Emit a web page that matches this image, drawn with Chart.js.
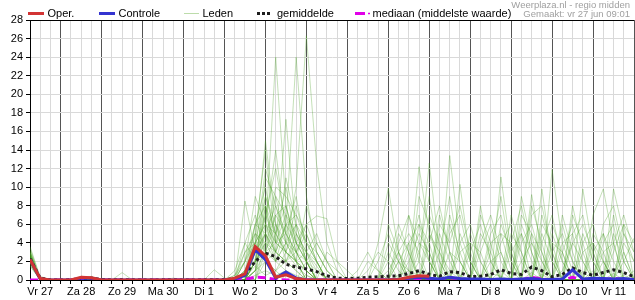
<!DOCTYPE html>
<html>
<head>
<meta charset="utf-8">
<script src="https://cdn.jsdelivr.net/npm/chart.js@4"></script>
<style>
html,body{margin:0;padding:0;background:#fff;}
canvas{display:block;}
</style>
</head>
<body>
<canvas id="c" width="635" height="300"></canvas>
<script>
// ---- categories: 6-hourly steps, hours since vr 27 00:00 ----
const N = 60;
const uren = Array.from({length: N}, (_, i) => 6 + 6 * i);
const dagen = ['Vr 27','Za 28','Zo 29','Ma 30','Di 1','Wo 2','Do 3','Vr 4','Za 5','Zo 6','Ma 7','Di 8','Wo 9','Do 10','Vr 11'];
const yTicks = [0,2,4,6,8,10,12,14,16,18,20,22,24,26,28];

// ---- series ----
const oper = [2.2,0.15,0,0,0,0.3,0.25,0,0,0, 0,0,0,0,0,0,0,0,0,0,
  0.2,0.67,3.6,2.6,0.3,0.55,0.15,0,0,0, 0,0,0,0,0,0,0.05,0.3,0.45,0.4];
const controle = [2.2,0.1,0,0,0,0.2,0.2,0,0,0, 0,0,0,0,0,0,0,0,0,0,
  0.1,0.5,3.3,2.2,0.2,0.85,0.2,0,0,0, 0,0,0,0,0,0,0.05,0.2,0.3,0.2,
  0.1,0.3,0.15,0.1,0.1,0.05,0.1,0.05,0.1,0.15, 0.05,0.05,0.1,1.1,0.1,0.2,0.15,0.1,0.15,0.05];
const gemiddelde = [2.3,0.2,0.02,0,0.02,0.2,0.2,0.05,0.02,0.05, 0.02,0,0,0.02,0.03,0,0,0.02,0.03,0.05,
  0.15,0.6,2.0,2.9,2.5,1.7,1.4,1.2,0.9,0.45, 0.2,0.15,0.2,0.3,0.35,0.4,0.45,0.7,1.0,0.6,
  0.4,0.9,0.8,0.35,0.4,0.6,1.1,0.7,0.6,1.4, 1.0,0.35,0.6,1.3,0.8,0.5,0.8,1.1,0.8,0.35];
const mediaan = [0,0,0,0,0,0,0,0,0,0, 0,0,0,0,0,0,0,0,0,0,
  0,0.05,0.3,0.25,0.05,0,0,0,0,0, 0,0,0,0,0,0,0,0.05,0,0,
  0,0.25,0.1,0,0,0,0,0,0,0.3, 0.1,0,0,0.3,0,0,0,0.2,0,0];

// ensemble members: [step, value] pairs, all other steps 0
const leden = [
  [[0,3.6],[1,0.3],[20,0.5],[21,2],[22,4],[23,15],[24,6],[25,3],[26,1.5],[27,0.5],[38,2],[39,12.6],[40,3],[41,1],[48,2],[49,4],[50,1],[55,1]],
  [[0,3.2],[1,0.2],[5,0.3],[21,8.5],[22,3],[23,5],[24,24],[25,8],[26,4],[27,2],[28,1],[35,1],[36,3],[37,1],[46,11.1],[47,3],[52,1],[53,4],[54,2]],
  [[0,2.9],[1,0.1],[6,0.4],[22,6],[23,10],[24,4],[25,17.3],[26,5],[27,3],[28,1.5],[41,13.4],[42,4],[43,1],[50,9.8],[51,2],[57,3],[58,6]],
  [[0,2.7],[22,2],[23,7],[24,12],[25,6],[26,24],[27,9],[28,3],[29,1],[36,2],[37,1],[38,12.2],[39,5],[40,2],[49,9.2],[50,3],[56,2]],
  [[0,2.5],[1,0.1],[21,1],[22,4],[23,9],[24,6],[25,4],[26,10],[27,26.3],[28,12.4],[29,4],[30,1],[42,10.3],[43,2],[51,11.9],[52,4],[53,1]],
  [[0,2.3],[5,0.2],[22,3],[23,12],[24,8],[25,5],[26,3],[27,6],[28,6.9],[29,6.6],[30,2],[31,1],[45,5],[46,7],[47,2],[54,9.8],[55,3]],
  [[0,2.1],[21,3],[22,5],[23,4],[24,10],[25,9],[26,7],[27,4],[28,2],[34,4],[35,9.9],[36,3],[44,3],[45,6],[46,2],[57,9.8],[58,5],[59,2]],
  [[0,2.0],[6,0.3],[23,8],[24,3],[25,11],[26,6],[27,2],[37,6.9],[38,4],[39,2],[48,9],[49,4],[50,2],[55,7],[56,9.8],[57,4]],
  [[0,1.8],[9,0.8],[22,1],[23,6],[24,5],[25,3],[26,2],[27,8],[28,4],[29,2],[40,6],[41,4],[42,8],[43,3],[52,7],[53,3],[58,2],[59,4.5]],
  [[0,1.6],[18,1.1],[19,0.2],[22,2],[23,4],[24,7],[25,5],[26,9],[27,3],[28,1],[33,2],[34,1],[38,9],[39,6],[40,1],[47,7],[48,3],[54,5],[55,2]],
  [[0,2.4],[14,0.2],[20,1],[21,4],[22,7],[23,3],[24,2],[25,6],[26,4],[27,3],[28,5],[29,2],[41,7],[42,3],[44,8],[45,2],[50,6],[51,4],[56,5],[57,2]],
  [[0,3.0],[22,1],[23,11],[24,9],[25,7],[26,3],[27,1],[36,5],[37,3],[43,5],[44,2],[48,5],[49,2],[53,8],[54,3]],
  [[0,2.6],[5,0.4],[6,0.3],[21,2],[22,9],[23,6],[24,3],[25,2],[26,5],[27,2],[39,4],[40,8],[41,3],[46,4],[47,6],[48,2],[52,3],[53,6],[54,2]],
  [[0,1.9],[22,5],[23,14],[24,4],[25,3],[26,2],[27,1],[35,3],[36,1],[42,5],[43,2],[49,7],[50,8],[51,3],[57,4],[58,7],[59,3]],
  [[0,2.2],[22,3],[23,5],[24,8],[25,4],[26,6],[27,4],[28,3],[29,1],[37,2],[38,5],[39,3],[45,3],[46,9],[47,2],[55,4],[56,2]],
  [[0,2.8],[21,4],[22,2],[23,9],[24,5],[25,8],[26,3],[27,2],[32,1],[33,3],[34,1],[40,3],[41,9],[42,2],[51,5],[52,2],[58,3]],
  [[0,2.0],[22,1],[23,3],[24,6],[25,2],[26,1],[36,4],[37,7],[38,2],[44,4],[45,7],[46,3],[53,5],[54,7],[55,2]],
  [[0,3.4],[1,0.2],[21,1],[22,6],[23,8],[24,2],[25,4],[26,3],[27,5],[28,2],[39,7],[40,4],[48,6],[49,3],[56,6],[57,8],[58,3]],
  [[0,2.3],[22,2],[23,4],[24,3],[25,2],[26,4],[27,6],[28,3],[29,1],[35,2],[36,6],[37,3],[43,3],[44,6],[45,2],[50,4],[51,7],[52,2]],
  [[0,1.7],[22,4],[23,6],[24,14],[25,5],[26,2],[27,1],[38,3],[39,9],[40,2],[47,4],[48,8],[49,3],[54,4],[55,6],[56,2]],
  [[0,2.5],[21,2],[22,5],[23,3],[24,4],[25,7],[26,5],[27,3],[28,2],[41,5],[42,7],[43,2],[49,5],[50,3],[57,5],[58,2]],
  [[0,2.1],[23,2],[24,5],[25,10],[26,4],[27,2],[34,2],[35,5],[36,2],[45,4],[46,5],[47,1],[52,6],[53,2]],
  [[0,2.9],[22,3],[23,7],[24,4],[25,3],[26,8],[27,4],[28,2],[37,3],[38,7],[39,2],[44,5],[45,3],[51,3],[52,5],[53,2]],
  [[0,2.4],[22,2],[23,5],[24,3],[25,6],[26,2],[27,3],[29,3],[30,2],[40,5],[41,2],[46,6],[47,3],[55,5],[56,3]],
  [[0,1.5],[20,0.5],[21,3],[22,4],[23,2],[24,1],[25,2],[26,3],[27,1],[35,4],[36,2],[42,4],[43,6],[44,2],[50,5],[51,2],[58,4],[59,2]],
  [[0,2.6],[22,1],[23,2],[24,3],[25,2],[26,1],[38,4],[39,3],[48,4],[49,6],[50,2],[56,4],[57,6]],
  [[0,2.2],[23,4],[24,2],[25,1],[27,2],[28,4],[29,2],[30,1],[41,3],[42,2],[53,4],[54,6],[55,3]],
  [[0,3.0],[21,1],[22,3],[23,2],[24,1],[25,3],[26,2],[36,3],[37,5],[38,3],[45,2],[46,3],[51,4],[52,3],[59,1]],
  [[0,1.8],[1,0.4],[22,0.5],[23,1],[24,0.5],[25,1],[26,0.5],[36,0.5],[37,1],[38,0.5],[41,1],[42,0.5],[46,1],[49,0.8],[53,1],[57,0.7]],
  [[0,2.0],[1,0.3],[21,0.3],[22,1.5],[23,0.5],[24,1],[27,0.5],[38,0.8],[39,0.3],[45,0.7],[46,0.4],[50,0.6],[54,0.9],[58,0.5]],
  [[0,2.7],[23,3],[24,9],[25,4],[26,2],[37,4],[38,6],[39,2],[43,4],[44,3],[47,5],[48,3],[53,7],[54,4],[58,5],[59,3]],
  [[0,3.1],[22,2],[23,8],[24,5],[25,3],[26,6],[27,2],[35,6],[36,3],[41,6],[42,2],[49,8],[50,4],[55,3],[56,5]],
  [[0,2.4],[21,1],[22,4],[23,6],[24,4],[25,5],[26,3],[27,1],[36,2],[37,4],[40,7],[41,3],[46,5],[47,4],[52,4],[53,5],[57,7],[58,2]],
  [[0,1.9],[22,2],[23,3],[24,7],[25,8],[26,4],[27,2],[38,6],[39,4],[44,7],[45,4],[51,6],[52,3],[56,3],[57,4]],
  [[0,2.8],[21,2],[22,6],[23,5],[24,2],[25,4],[26,2],[33,1],[34,3],[35,2],[42,3],[43,4],[48,7],[49,5],[54,3],[55,4]],
  [[0,2.2],[22,1],[23,5],[24,3],[25,6],[26,7],[27,5],[28,2],[39,5],[40,3],[47,3],[48,5],[50,7],[51,3],[58,6],[59,4]]
];

function volledig(paren) {
  const r = new Array(N).fill(0);
  paren.forEach(([i, v]) => { r[i] = v; });
  return r;
}
function punten(vals) { return vals.map((v, i) => ({x: uren[i], y: v})); }

const datasets = [];
datasets.push({label:'Oper.', data: punten(oper), borderColor:'#d23434', borderWidth:3, pointRadius:0, order:0});
datasets.push({label:'Controle', data: punten(controle), borderColor:'#3434d0', borderWidth:3, pointRadius:0, order:1});
datasets.push({label:'gemiddelde', data: punten(gemiddelde), borderColor:'#1e1e1e', borderWidth:3, borderDash:[3,3], pointRadius:0, order:2});
datasets.push({label:'mediaan (middelste waarde)', data: punten(mediaan), borderColor:'#e000e8', borderWidth:3, borderDash:[8,4], pointRadius:0, order:3});
leden.forEach((m, k) => datasets.push({label: k === 0 ? 'Leden' : 'lid' + k, data: punten(volledig(m)),
  borderColor:'rgba(70,160,35,0.32)', borderWidth:1, pointRadius:0, order:10}));

const FONT = '"Liberation Sans", Arial, sans-serif';

const extraPlugin = {
  id: 'extra',
  afterDraw(chart) {
    const ctx = chart.ctx, a = chart.chartArea;
    ctx.save();
    // top border
    ctx.strokeStyle = '#000'; ctx.lineWidth = 1;
    ctx.beginPath(); ctx.moveTo(a.left, a.top + 0.5); ctx.lineTo(a.right, a.top + 0.5); ctx.stroke();
    // legend
    ctx.font = '11px ' + FONT; ctx.textBaseline = 'alphabetic'; ctx.fillStyle = '#000';
    const ly = 13.5, ty = 17;
    function sw(x1, x2, color, w, dash) {
      ctx.save(); ctx.strokeStyle = color; ctx.lineWidth = w; ctx.setLineDash(dash || []);
      ctx.beginPath(); ctx.moveTo(x1, ly); ctx.lineTo(x2, ly); ctx.stroke(); ctx.restore();
    }
    sw(28, 44, '#d23434', 3); ctx.fillText('Oper.', 47.5, ty);
    sw(99, 115, '#3434d0', 3); ctx.fillText('Controle', 118.5, ty);
    sw(184, 199, '#bcdcaa', 1); ctx.fillText('Leden', 202.5, ty);
    sw(257, 272, '#1e1e1e', 3, [3,2]); ctx.fillText('gemiddelde', 277, ty);
    sw(355, 365, '#e000e8', 3); sw(368, 370, '#e000e8', 1.5);
    ctx.fillText('mediaan (middelste waarde)', 372.5, ty);
    // attribution
    ctx.font = '9.5px ' + FONT; ctx.fillStyle = '#a0a0a0'; ctx.textAlign = 'right';
    ctx.fillText('Weerplaza.nl - regio midden', 630, 7.5);
    ctx.fillText('Gemaakt: vr 27 jun 09:01', 630, 17);
    ctx.restore();
  }
};

new Chart(document.getElementById('c'), {
  type: 'line',
  data: { datasets },
  options: {
    responsive: false,
    animation: false,
    devicePixelRatio: 1,
    parsing: true,
    elements: { line: { tension: 0 } },
    layout: { padding: { top: 20, left: 0, right: 0, bottom: 0 } },
    plugins: { legend: { display: false }, tooltip: { enabled: false } },
    scales: {
      x: {
        type: 'linear', min: 6, max: 360,
        afterBuildTicks: (s) => { s.ticks = uren.map(v => ({value: v})); },
        afterFit: (s) => { s.height = 20; },
        border: { color: '#000', width: 1 },
        grid: {
          color: (c) => (c.tick && c.tick.value % 24 === 0) ? '#555555' : '#d9d9d9',
          tickColor: '#000', tickLength: 4, drawTicks: true
        },
        ticks: {
          autoSkip: false, maxRotation: 0, minRotation: 0, padding: 1,
          color: '#000', font: { family: FONT, size: 11 },
          callback: (v) => (v % 24 === 12) ? dagen[(v - 12) / 24] : ''
        }
      },
      y: {
        min: 0, max: 28,
        afterBuildTicks: (s) => { s.ticks = yTicks.map(v => ({value: v})); },
        afterFit: (s) => { s.width = 30; },
        border: { color: '#000', width: 1 },
        grid: { color: '#d9d9d9', tickColor: '#000', tickLength: 4 },
        ticks: { color: '#000', padding: 3, font: { family: FONT, size: 11 } }
      }
    }
  },
  plugins: [extraPlugin]
});
</script>
</body>
</html>
